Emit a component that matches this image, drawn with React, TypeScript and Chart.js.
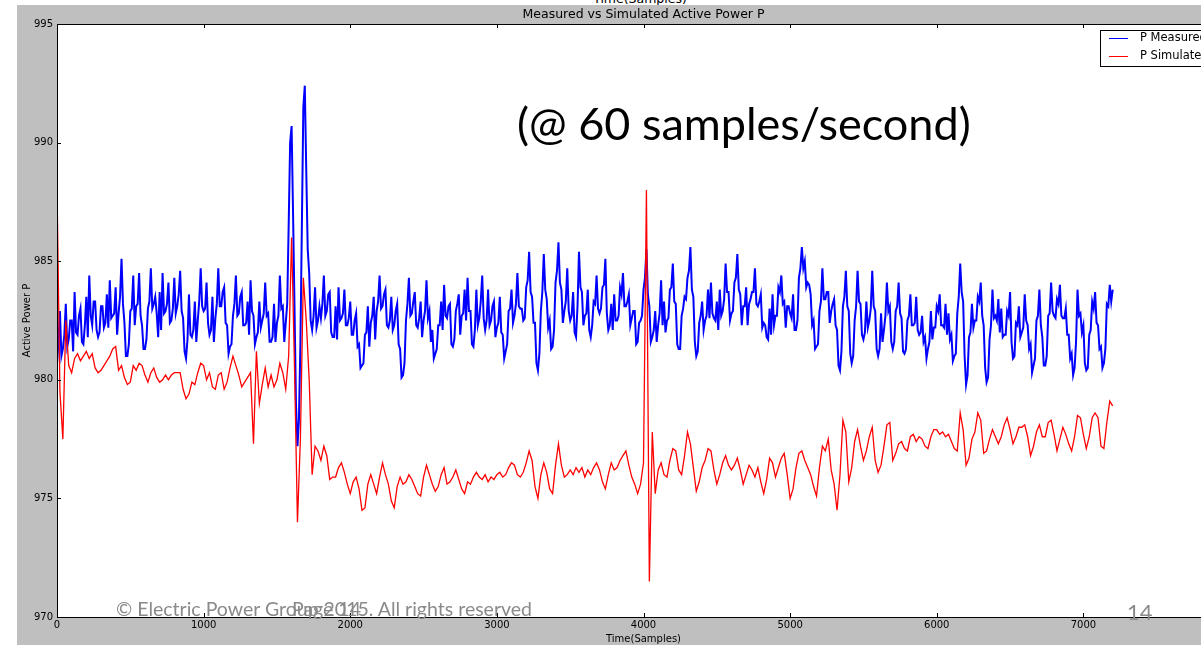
import React, { useEffect, useRef } from 'react';
import { Chart, registerables } from 'chart.js';

Chart.register(...registerables);

// ---- data ----
const MEASURED_STEP = 10; // samples between two stored measured values
const SIMULATED_STEP = 20; // samples between two stored simulated values
const X_TICKS = [0, 1000, 2000, 3000, 4000, 5000, 6000, 7000, 8000];
const Y_TICKS = [970, 975, 980, 985, 990, 995];
const TITLE = 'Measured vs Simulated Active Power P';
const X_LABEL = 'Time(Samples)';
const Y_LABEL = 'Active Power P';
const SERIES_LABELS = ['P Measured', 'P Simulated'];

const measured = [
  980.7, 981.6, 982.9, 981.0, 981.3, 981.9, 983.2, 981.4, 981.7, 982.5,
  982.5, 981.2, 983.7, 982.0, 981.9, 982.7, 983.0, 981.6, 981.5, 982.3,
  983.5, 981.8, 984.4, 982.7, 982.3, 983.3, 983.3, 982.1, 981.8, 982.0,
  983.1, 983.1, 982.2, 982.4, 983.6, 982.2, 984.2, 982.6, 982.7, 982.8,
  983.9, 981.9, 982.8, 983.5, 985.1, 983.2, 982.4, 981.0, 981.0, 981.5,
  982.9, 983.0, 984.4, 982.3, 983.1, 983.2, 984.5, 982.7, 982.3, 981.3,
  981.3, 981.7, 983.0, 983.3, 984.7, 983.0, 983.2, 983.5, 982.8, 981.8,
  983.7, 982.1, 984.5, 982.8, 982.9, 983.2, 984.1, 982.4, 982.5, 983.0,
  984.3, 982.8, 983.1, 983.6, 984.6, 982.9, 982.6, 981.2, 980.9, 981.7,
  983.6, 981.9, 981.8, 982.1, 983.3, 981.6, 982.5, 983.3, 984.7, 983.1,
  982.9, 983.0, 984.1, 982.4, 981.9, 982.1, 983.5, 981.6, 982.6, 983.2,
  984.7, 983.1, 983.1, 983.7, 983.9, 982.4, 982.3, 981.1, 981.4, 981.5,
  982.7, 983.2, 984.4, 982.7, 982.8, 983.5, 983.7, 982.3, 982.3, 982.4,
  983.3, 981.9, 984.2, 982.9, 982.7, 981.5, 981.8, 982.0, 983.3, 982.2,
  982.5, 982.8, 984.1, 982.7, 982.8, 981.6, 981.6, 981.8, 983.2, 981.6,
  982.4, 982.7, 984.4, 983.0, 983.1, 981.6, 982.4, 983.2, 986.5, 990.0,
  990.7, 987.0, 983.0, 979.0, 977.2, 978.3, 981.5, 986.5, 991.5, 992.4,
  988.8, 985.5, 984.5, 982.5, 982.1, 982.7, 983.9, 982.2, 982.5, 983.1,
  982.6, 983.2, 984.4, 982.7, 982.9, 983.6, 983.7, 982.0, 981.8, 981.8,
  983.1, 981.7, 983.9, 982.5, 982.6, 982.8, 983.8, 982.3, 982.3, 982.6,
  983.3, 981.9, 981.9, 982.5, 982.8, 981.4, 981.5, 980.5, 980.6, 980.7,
  981.9, 982.0, 983.1, 981.4, 982.4, 982.7, 983.5, 981.7, 982.9, 983.3,
  984.4, 983.0, 983.1, 983.6, 983.8, 982.3, 982.2, 982.5, 983.5, 982.1,
  982.3, 982.9, 983.2, 981.5, 981.3, 980.1, 980.2, 980.7, 982.5, 983.2,
  984.3, 982.7, 982.8, 983.3, 983.7, 982.3, 982.2, 982.6, 983.3, 981.8,
  982.5, 982.9, 984.2, 982.6, 982.9, 981.6, 982.1, 980.9, 981.1, 981.3,
  982.3, 982.3, 983.3, 982.1, 984.0, 982.7, 982.6, 983.1, 983.2, 981.5,
  981.4, 981.7, 982.9, 983.2, 983.6, 981.9, 982.7, 982.8, 983.8, 982.5,
  984.3, 982.9, 982.9, 981.5, 981.4, 982.1, 983.8, 982.3, 982.6, 983.3,
  984.4, 982.6, 982.1, 982.5, 983.8, 982.3, 982.5, 983.1, 983.3, 981.8,
  982.2, 982.4, 983.5, 982.0, 981.9, 980.9, 981.2, 981.5, 982.9, 983.0,
  983.8, 982.4, 982.7, 983.2, 984.5, 983.1, 983.0, 983.0, 982.5, 982.6,
  983.9, 984.2, 985.4, 983.7, 983.5, 982.4, 982.4, 980.7, 980.4, 981.1,
  982.9, 983.7, 985.3, 983.8, 983.4, 982.2, 982.5, 981.3, 981.4, 982.1,
  984.1, 984.6, 985.8, 984.1, 983.8, 982.4, 982.9, 983.3, 984.7, 982.9,
  982.5, 982.7, 983.7, 982.0, 981.8, 983.1, 985.4, 983.9, 983.7, 982.3,
  982.7, 982.8, 983.8, 982.1, 981.8, 982.3, 983.3, 983.2, 984.4, 983.0,
  982.8, 983.0, 983.9, 984.0, 985.1, 982.8, 982.1, 982.3, 983.2, 982.1,
  983.6, 982.5, 982.5, 982.7, 983.9, 983.6, 984.5, 983.1, 983.1, 983.3,
  983.6, 982.3, 982.6, 982.9, 982.9, 981.5, 981.6, 982.4, 982.5, 982.7,
  983.8, 984.3, 985.5, 983.6, 983.1, 981.6, 981.8, 982.1, 982.9, 981.6,
  982.3, 982.8, 984.2, 982.3, 983.3, 982.0, 982.5, 982.6, 983.8, 983.9,
  984.9, 983.3, 983.2, 981.5, 981.3, 981.3, 982.7, 983.0, 983.5, 983.4,
  984.3, 984.6, 985.6, 983.8, 983.5, 981.6, 981.0, 981.2, 982.4, 982.7,
  983.3, 982.1, 982.5, 982.7, 983.8, 982.6, 984.1, 982.8, 982.6, 982.5,
  983.3, 982.1, 983.8, 982.7, 982.9, 983.4, 984.9, 983.7, 983.7, 982.5,
  982.8, 982.9, 984.1, 984.3, 985.3, 983.8, 983.6, 982.3, 983.1, 983.1,
  983.9, 982.3, 983.2, 983.4, 983.7, 983.7, 984.7, 983.2, 983.1, 983.3,
  983.6, 982.2, 982.4, 982.3, 981.8, 981.7, 983.0, 981.9, 983.6, 982.3,
  982.7, 982.7, 983.9, 983.7, 984.4, 983.2, 983.3, 982.2, 983.1, 983.1,
  982.8, 982.6, 983.6, 982.1, 982.1, 982.5, 984.3, 984.7, 985.6, 984.7,
  985.0, 983.9, 984.1, 984.0, 983.6, 982.3, 982.5, 981.3, 981.4, 981.5,
  982.9, 983.3, 984.7, 983.4, 983.4, 983.7, 983.7, 982.4, 982.9, 983.2,
  983.4, 982.3, 982.1, 980.6, 980.4, 981.2, 983.1, 983.5, 984.6, 983.1,
  982.9, 981.1, 980.7, 981.0, 982.5, 983.1, 984.6, 983.3, 983.2, 981.9,
  981.7, 982.0, 983.3, 982.2, 982.5, 983.0, 984.6, 983.1, 982.9, 981.3,
  981.0, 981.3, 982.8, 981.6, 982.1, 982.7, 984.1, 982.9, 983.1, 981.6,
  981.3, 981.6, 982.9, 983.1, 984.1, 982.8, 982.6, 981.2, 981.1, 981.3,
  982.5, 982.7, 983.6, 982.3, 982.3, 982.4, 983.5, 982.1, 981.9, 982.0,
  982.7, 981.6, 981.8, 980.9, 981.3, 981.6, 982.9, 981.7, 982.2, 982.2,
  983.1, 982.9, 983.6, 982.3, 982.3, 982.2, 983.2, 981.9, 982.8, 981.7,
  981.9, 980.8, 981.0, 981.1, 982.8, 983.5, 984.9, 983.7, 983.3, 981.0,
  979.8, 980.2, 981.8, 982.0, 983.2, 982.2, 982.5, 982.5, 983.5, 983.3,
  984.1, 982.7, 982.3, 980.5, 979.9, 980.1, 981.7, 982.3, 983.8, 982.6,
  982.7, 982.5, 983.4, 982.0, 983.0, 981.8, 981.9, 981.9, 982.9, 982.7,
  983.7, 981.6, 980.9, 981.0, 982.4, 982.3, 983.1, 981.8, 982.0, 982.2,
  983.6, 982.5, 982.3, 981.3, 981.5, 980.3, 980.6, 980.9, 982.5, 982.7,
  983.8, 982.3, 981.8, 980.6, 980.6, 981.0, 982.7, 982.8, 984.1, 982.9,
  982.7, 982.6, 983.4, 983.2, 984.0, 982.7, 982.6, 982.6, 983.0, 981.9,
  981.9, 980.9, 981.1, 980.2, 980.5, 981.6, 983.8, 982.7, 982.8, 982.0,
  982.3, 980.7, 980.4, 980.5, 981.9, 982.1, 983.3, 983.0, 983.7, 982.4,
  982.3, 981.3, 981.4, 980.5, 980.7, 981.3, 983.2, 983.1, 984.0, 983.3,
  983.8,
];

const simulated = [
  988.1, 979.5, 977.5, 982.5, 980.6,
  980.3, 980.9, 981.1, 980.8, 981.0,
  981.2, 980.9, 981.1, 980.5, 980.3,
  980.4, 980.6, 980.8, 981.0, 981.3,
  981.4, 980.4, 980.6, 980.1, 979.8,
  979.9, 980.6, 980.4, 980.7, 980.6,
  980.2, 979.9, 980.3, 980.5, 980.1,
  979.9, 980.0, 980.2, 980.0, 980.2,
  980.3, 980.3, 980.3, 979.6, 979.2,
  979.4, 979.9, 979.8, 980.3, 980.7,
  980.6, 980.0, 980.3, 979.7, 979.6,
  980.2, 980.3, 979.6, 979.9, 980.5,
  981.0, 980.6, 980.2, 979.7, 979.9,
  980.1, 980.3, 977.3, 981.2, 979.0,
  979.8, 980.5, 979.7, 980.2, 979.7,
  980.0, 980.7, 980.3, 979.6, 981.0,
  986.0, 980.5, 974.0, 977.5, 984.3,
  982.5, 980.0, 976.0, 977.2, 977.0,
  976.6, 977.2, 976.8, 975.8, 975.9,
  975.9, 976.3, 976.5, 976.1, 975.6,
  975.2, 975.7, 975.9, 975.4, 974.5,
  974.6, 975.6, 976.0, 975.6, 975.2,
  975.9, 976.5, 976.0, 975.6, 974.9,
  974.6, 975.5, 975.9, 975.6, 975.7,
  976.0, 975.8, 975.5, 975.2, 975.1,
  975.9, 976.4, 976.0, 975.6, 975.3,
  975.5, 976.0, 976.3, 975.6, 975.7,
  975.9, 976.2, 975.8, 975.4, 975.2,
  975.7, 975.6, 975.9, 976.1, 975.9,
  975.8, 976.0, 975.7, 975.9, 975.8,
  976.0, 976.1, 975.9, 976.0, 976.3,
  976.5, 976.4, 976.0, 975.9, 976.1,
  976.5, 977.0, 976.6, 975.5, 975.0,
  976.0, 976.5, 976.1, 975.4, 975.2,
  976.4, 977.3, 976.4, 975.9, 976.0,
  976.2, 976.0, 976.3, 976.1, 976.3,
  975.9, 976.2, 976.0, 976.3, 976.5,
  976.2, 975.7, 975.4, 976.0, 976.5,
  976.2, 976.3, 976.6, 976.8, 977.0,
  976.4, 975.9, 975.6, 975.2, 975.6,
  976.5, 988.0, 971.5, 977.8, 975.2,
  976.2, 976.5, 976.0, 975.9, 976.6,
  977.1, 977.0, 976.2, 976.0, 976.8,
  977.8, 977.3, 976.3, 975.3, 975.7,
  976.3, 976.6, 977.1, 977.0, 976.2,
  975.6, 976.0, 976.5, 976.8, 976.4,
  976.2, 976.4, 976.7, 976.2, 975.6,
  976.0, 976.4, 976.2, 975.9, 976.3,
  975.7, 975.2, 975.8, 976.7, 976.5,
  975.9, 976.3, 976.7, 976.9, 976.0,
  975.0, 975.4, 976.3, 976.9, 977.0,
  976.6, 976.3, 976.0, 975.5, 975.1,
  976.3, 977.2, 977.0, 977.5, 976.2,
  975.6, 974.5, 976.0, 978.3, 977.8,
  975.7, 976.3, 977.4, 977.9, 977.2,
  976.6, 977.0, 977.6, 978.0, 976.6,
  976.1, 976.4, 977.2, 978.1, 978.2,
  976.6, 976.9, 977.3, 977.4, 977.1,
  977.0, 977.6, 977.7, 977.4, 977.6,
  977.5, 977.2, 977.1, 977.6, 977.9,
  977.9, 977.7, 977.8, 977.6, 977.7,
  977.4, 977.1, 977.0, 978.6, 977.9,
  976.4, 976.7, 977.5, 977.8, 978.6,
  978.3, 976.9, 977.0, 977.5, 977.9,
  977.6, 977.3, 977.6, 978.1, 978.4,
  977.9, 977.3, 977.6, 978.0, 978.0,
  978.1, 977.6, 976.8, 977.2, 977.8,
  978.1, 977.6, 977.6, 978.2, 978.3,
  977.7, 977.0, 977.5, 978.0, 977.7,
  977.3, 977.0, 977.6, 978.5, 978.4,
  977.7, 977.1, 977.6, 978.4, 978.6,
  978.4, 977.2, 977.1, 978.2, 979.1,
  978.9,
];

const SERIES_COLORS = ['#0000ff', '#ff0000'];

const AXIS_FONT = { family: 'DejaVu Sans', size: 10 };

const toPoints = (values: number[], step: number) =>
  values.map((v, i) => ({ x: i * step, y: v }));

const framePlugin = {
  id: 'mplFrame',
  beforeDraw(chart: any) {
    const { ctx, chartArea: a } = chart;
    ctx.save();
    ctx.fillStyle = '#ffffff';
    ctx.fillRect(a.left, a.top, a.right - a.left, a.bottom - a.top);
    ctx.restore();
  },
  afterDraw(chart: any) {
    const { ctx, chartArea: a } = chart;
    const xs = chart.scales.x;
    const ys = chart.scales.y;
    ctx.save();
    ctx.strokeStyle = '#000000';
    ctx.lineWidth = 1;
    // inward ticks on all four sides
    ctx.beginPath();
    X_TICKS.forEach((v) => {
      const px = Math.round(xs.getPixelForValue(v)) + 0.5;
      ctx.moveTo(px, a.bottom);
      ctx.lineTo(px, a.bottom - 4);
      ctx.moveTo(px, a.top);
      ctx.lineTo(px, a.top + 4);
    });
    Y_TICKS.forEach((v) => {
      const py = Math.round(ys.getPixelForValue(v)) + 0.5;
      ctx.moveTo(a.left, py);
      ctx.lineTo(a.left + 4, py);
      ctx.moveTo(a.right, py);
      ctx.lineTo(a.right - 4, py);
    });
    ctx.stroke();
    // spines
    ctx.strokeRect(
      Math.round(a.left) + 0.5,
      Math.round(a.top) + 0.5,
      Math.round(a.right - a.left) - 1,
      Math.round(a.bottom - a.top)
    );
    // legend box (upper right, inside the axes)
    const lx = Math.round(a.right) - 130;
    const ly = Math.round(a.top) + 6;
    const lw = 125;
    const lh = 36;
    ctx.fillStyle = '#ffffff';
    ctx.fillRect(lx, ly, lw, lh);
    ctx.strokeRect(lx + 0.5, ly + 0.5, lw, lh);
    ctx.font = '11.5px "DejaVu Sans"';
    ctx.textBaseline = 'middle';
    ctx.textAlign = 'left';
    chart.data.datasets.forEach((ds: any, i: number) => {
      const yy = ly + 8 + i * 18 + 0.5;
      ctx.strokeStyle = ds.borderColor;
      ctx.lineWidth = 1;
      ctx.beginPath();
      ctx.moveTo(lx + 9, yy);
      ctx.lineTo(lx + 28, yy);
      ctx.stroke();
      ctx.fillStyle = '#000000';
      ctx.fillText(ds.label, lx + 40, yy);
    });
    ctx.restore();
  },
};

export default function App() {
  const canvasRef = useRef<HTMLCanvasElement | null>(null);

  useEffect(() => {
    const canvas = canvasRef.current;
    if (!canvas) return;
    const chart = new Chart(canvas, {
      type: 'line',
      data: {
        datasets: [
          {
            label: SERIES_LABELS[0],
            data: toPoints(measured, MEASURED_STEP),
            borderColor: SERIES_COLORS[0],
            backgroundColor: SERIES_COLORS[0],
            borderWidth: 2,
            pointRadius: 0,
            tension: 0,
            order: 2,
          },
          {
            label: SERIES_LABELS[1],
            data: toPoints(simulated, SIMULATED_STEP),
            borderColor: SERIES_COLORS[1],
            backgroundColor: SERIES_COLORS[1],
            borderWidth: 1.3,
            pointRadius: 0,
            tension: 0,
            order: 1,
          },
        ],
      },
      options: {
        animation: false,
        responsive: false,
        maintainAspectRatio: false,
        devicePixelRatio: 1,
        layout: { padding: { left: 17, top: 5, right: 0, bottom: 0 } },
        plugins: {
          legend: { display: false },
          tooltip: { enabled: false },
          title: {
            display: true,
            text: TITLE,
            color: '#000000',
            font: { family: 'DejaVu Sans', size: 12.5, weight: 'normal' },
            padding: { top: 2.5, bottom: 1.5 },
          },
        },
        scales: {
          x: {
            type: 'linear',
            min: 0,
            max: 8000,
            grid: { display: false, drawTicks: false },
            border: { display: false },
            ticks: {
              stepSize: 1000,
              autoSkip: false,
              maxRotation: 0,
              color: '#000000',
              font: AXIS_FONT,
              padding: 2,
              callback: (v: any) => String(v),
            },
            title: {
              display: true,
              text: X_LABEL,
              color: '#000000',
              font: AXIS_FONT,
              padding: { top: 3, bottom: 0 },
            },
            afterFit: (s: any) => {
              s.height = 28;
            },
          },
          y: {
            type: 'linear',
            position: 'left',
            min: 970,
            max: 995,
            grid: { display: false, drawTicks: false },
            border: { display: false },
            ticks: {
              stepSize: 5,
              color: '#000000',
              font: AXIS_FONT,
              padding: 4,
              callback: (v: any) => String(v),
            },
            title: {
              display: true,
              text: Y_LABEL,
              color: '#000000',
              font: AXIS_FONT,
              padding: { top: 4, bottom: 0 },
            },
            afterFit: (s: any) => {
              s.width = 40;
            },
          },
          yRight: {
            type: 'linear',
            position: 'right',
            display: true,
            grid: { display: false, drawTicks: false },
            border: { display: false },
            ticks: { display: false },
            afterFit: (s: any) => {
              s.width = 40;
            },
          },
        },
      },
      plugins: [framePlugin],
    } as any);
    return () => chart.destroy();
  }, []);

  const footer: React.CSSProperties = {
    position: 'absolute',
    fontFamily: 'Lato, "Open Sans", sans-serif',
    color: '#8a8a8a',
    whiteSpace: 'nowrap',
    lineHeight: '24px',
  };

  return (
    <div
      style={{
        position: 'fixed',
        left: 0,
        top: 0,
        width: 1201,
        height: 645,
        overflow: 'hidden',
        background: '#ffffff',
      }}
    >
      <div
        style={{
          position: 'absolute',
          left: 540,
          top: -9,
          width: 200,
          textAlign: 'center',
          fontFamily: '"DejaVu Sans"',
          fontSize: 12.5,
          lineHeight: '15px',
          color: '#000',
          whiteSpace: 'nowrap',
        }}
      >
        {X_LABEL}
      </div>
      <div
        style={{
          position: 'absolute',
          left: 17,
          top: 5,
          width: 1300,
          height: 700,
          background: '#bfbfbf',
        }}
      />
      <canvas
        ref={canvasRef}
        width={1270}
        height={645}
        style={{ position: 'absolute', left: 0, top: 0, width: 1270, height: 645 }}
      />
      <div
        style={{
          position: 'absolute',
          left: 517,
          top: 101,
          fontFamily: 'Lato, "Open Sans", sans-serif',
          fontSize: 45,
          lineHeight: '45px',
          color: '#000',
          whiteSpace: 'nowrap',
        }}
      >
        (@ 60 samples/second)
      </div>
      <div style={{ ...footer, left: 116, top: 597, fontSize: 19.5 }}>
        © Electric Power Group 2015. All rights reserved
      </div>
      <div style={{ ...footer, left: 292, top: 597, fontSize: 19.5 }}>Page 14</div>
      <div style={{ ...footer, left: 1127, top: 600, fontSize: 22 }}>14</div>
    </div>
  );
}
